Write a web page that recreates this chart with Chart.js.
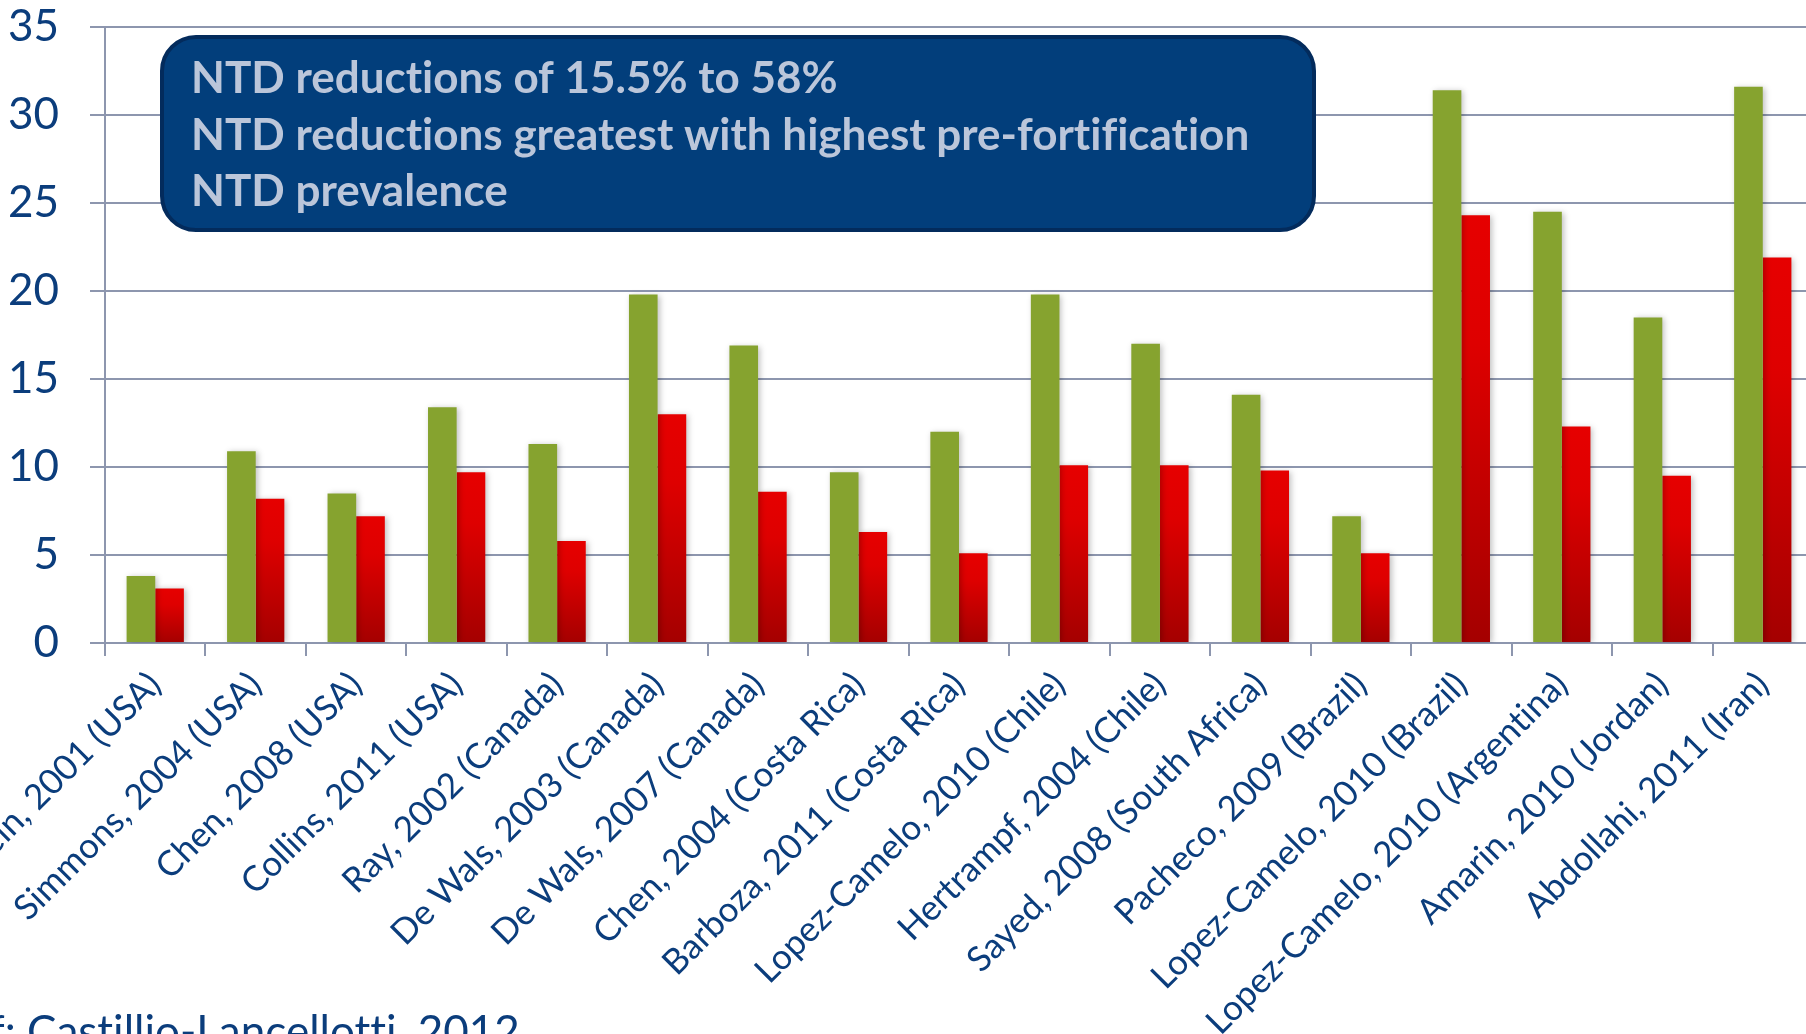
<!DOCTYPE html>
<html>
<head>
<meta charset="utf-8">
<script src="https://cdn.jsdelivr.net/npm/chart.js@4.4.1/dist/chart.umd.min.js"></script>
<style>
    html, body { margin: 0; padding: 0; background: #ffffff; overflow: hidden; }
    #wrap { width: 1806px; height: 1034px; overflow: hidden; position: relative; }
    canvas { display: block; }
</style>
</head>
<body>
<div id="wrap"><canvas id="ntdChart" width="1830" height="1034"></canvas></div>
<script>
// ==========================================
// Chart data (NTD prevalence per 10,000 births)
// ==========================================

const studies = [
    'Honein, 2001 (USA)',
    'Simmons, 2004 (USA)',
    'Chen, 2008 (USA)',
    'Collins, 2011 (USA)',
    'Ray, 2002 (Canada)',
    'De Wals, 2003 (Canada)',
    'De Wals, 2007 (Canada)',
    'Chen, 2004 (Costa Rica)',
    'Barboza, 2011 (Costa Rica)',
    'Lopez-Camelo, 2010 (Chile)',
    'Hertrampf, 2004 (Chile)',
    'Sayed, 2008 (South Africa)',
    'Pacheco, 2009 (Brazil)',
    'Lopez-Camelo, 2010 (Brazil)',
    'Lopez-Camelo, 2010 (Argentina)',
    'Amarin, 2010 (Jordan)',
    'Abdollahi, 2011 (Iran)'
];

const preFortification = [3.8, 10.9, 8.5, 13.4, 11.3, 19.8, 16.9, 9.7, 12.0, 19.8, 17.0, 14.1, 7.2, 31.4, 24.5, 18.5, 31.6];
const postFortification = [3.1, 8.2, 7.2, 9.7, 5.8, 13.0, 8.6, 6.3, 5.1, 10.1, 10.1, 9.8, 5.1, 24.3, 12.3, 9.5, 21.9];

const yMin = 0;
const yMax = 35;
const yStep = 5;

const boxLines = [
    'NTD reductions of 15.5% to 58%',
    'NTD reductions greatest with highest pre-fortification',
    'NTD prevalence'
];
const sourceNote = 'Castillio-Lancellotti, 2012';

// ==========================================
// Styling helpers
// ==========================================

const AXIS_BLUE = '#0B3D7C';
const GRID_COLOR = '#8D96AE';
const FONT = "Lato, 'Open Sans', sans-serif";

// red bars fade darker towards the base
function redGradient(context) {
    const chart = context.chart;
    if (!chart.chartArea || context.type !== 'data') return '#D80000';
    const y = chart.scales.y;
    const top = y.getPixelForValue(context.raw);
    const bottom = y.getPixelForValue(0);
    const g = chart.ctx.createLinearGradient(0, top, 0, bottom);
    g.addColorStop(0, '#E60000');
    g.addColorStop(0.3, '#DE0000');
    g.addColorStop(1, '#A40000');
    return g;
}

// no "ti"/"fi" ligatures (the slide font has none)
const plainTextPlugin = {
    id: 'plainText',
    beforeDraw(chart) {
        chart.ctx.textRendering = 'optimizeSpeed';
    }
};

// soft shadow behind the bars
const barShadowPlugin = {
    id: 'barShadow',
    beforeDatasetsDraw(chart) {
        const c = chart.ctx;
        c.save();
        c.shadowColor = 'rgba(0, 0, 0, 0.25)';
        c.shadowBlur = 6;
        c.shadowOffsetX = 2;
        c.shadowOffsetY = 1;
    },
    afterDatasetsDraw(chart) {
        chart.ctx.restore();
    }
};

// blue callout box + source note
const noteBoxPlugin = {
    id: 'noteBox',
    afterDraw(chart) {
        const ctx = chart.ctx;
        ctx.save();
        ctx.textRendering = 'optimizeSpeed';

        ctx.beginPath();
        ctx.roundRect(162, 37, 1152, 193, 34);
        ctx.fillStyle = '#023E7B';
        ctx.fill();
        ctx.lineWidth = 4;
        ctx.strokeStyle = '#032B5C';
        ctx.stroke();

        ctx.fillStyle = '#BBC6DA';
        ctx.font = `bold 44px ${FONT}`;
        ctx.textBaseline = 'alphabetic';
        ctx.textAlign = 'left';
        const baselines = [93, 150, 206];
        boxLines.forEach((line, i) => {
            ctx.fillText(line, 191, baselines[i]);
        });

        // source note, cut by the bottom/left edge like the original slide
        ctx.fillStyle = AXIS_BLUE;
        ctx.font = `44px ${FONT}`;
        const prefix = 'Ref: ';
        const pw = ctx.measureText(prefix).width;
        ctx.fillText(prefix + sourceNote, 27 - pw, 1047);

        ctx.restore();
    }
};

// ==========================================
// Chart
// ==========================================

new Chart(document.getElementById('ntdChart'), {
    type: 'bar',
    data: {
        labels: studies,
        datasets: [
            {
                label: 'Pre-fortification',
                data: preFortification,
                backgroundColor: '#86A32F',
                categoryPercentage: 0.57,
                barPercentage: 1.0
            },
            {
                label: 'Post-fortification',
                data: postFortification,
                backgroundColor: redGradient,
                categoryPercentage: 0.57,
                barPercentage: 1.0
            }
        ]
    },
    options: {
        responsive: false,
        animation: false,
        devicePixelRatio: 1,
        layout: {
            padding: { top: 27, right: 17, left: 0, bottom: 0 }
        },
        plugins: {
            legend: { display: false },
            tooltip: { enabled: false }
        },
        scales: {
            x: {
                grid: {
                    display: true,
                    drawOnChartArea: false,
                    drawTicks: true,
                    tickLength: 13,
                    color: GRID_COLOR,
                    lineWidth: 2,
                    offset: true
                },
                border: { display: true, color: GRID_COLOR, width: 2 },
                ticks: {
                    autoSkip: false,
                    minRotation: 45,
                    maxRotation: 45,
                    padding: 8,
                    color: AXIS_BLUE,
                    font: { family: FONT, size: 35 }
                },
                afterFit(scale) {
                    scale.height = 391;
                    scale.paddingLeft = 0;
                    scale.paddingRight = 0;
                }
            },
            y: {
                min: yMin,
                max: yMax,
                grid: {
                    color: GRID_COLOR,
                    lineWidth: 2,
                    tickLength: 15
                },
                border: { display: true, color: GRID_COLOR, width: 2 },
                ticks: {
                    stepSize: yStep,
                    padding: 31,
                    color: AXIS_BLUE,
                    font: { family: FONT, size: 44 }
                },
                afterFit(scale) {
                    scale.width = 105;
                    scale.paddingTop = 0;
                    scale.paddingBottom = 0;
                }
            }
        }
    },
    plugins: [plainTextPlugin, barShadowPlugin, noteBoxPlugin]
});
</script>
</body>
</html>
